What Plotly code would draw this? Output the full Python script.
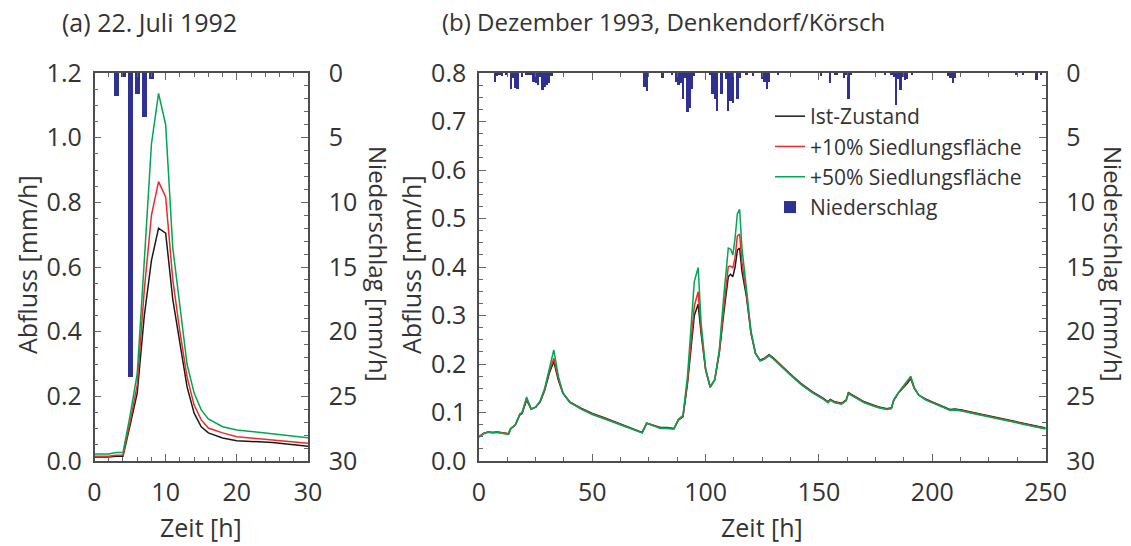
import plotly.graph_objects as go

# ---------------- Panel (a): 22. Juli 1992 ----------------
t_a = [0, 2, 3, 4, 5, 6, 7, 8, 9, 10, 11, 12, 13, 14, 15, 16, 18, 20, 25, 30]
ist_a = [0.012, 0.012, 0.015, 0.015, 0.11, 0.21, 0.45, 0.62, 0.72, 0.705, 0.50, 0.36, 0.23, 0.148, 0.106, 0.087, 0.071, 0.063, 0.057, 0.046]
p10_a = [0.015, 0.015, 0.018, 0.018, 0.12, 0.235, 0.53, 0.76, 0.864, 0.817, 0.56, 0.40, 0.26, 0.173, 0.127, 0.102, 0.087, 0.075, 0.065, 0.055]
p50_a = [0.022, 0.022, 0.026, 0.026, 0.14, 0.27, 0.62, 0.98, 1.137, 1.04, 0.66, 0.47, 0.30, 0.21, 0.158, 0.13, 0.106, 0.096, 0.083, 0.072]
rain_t_a = [3, 4, 5, 6, 7, 8]
rain_a = [1.75, 0.28, 23.5, 1.6, 3.4, 0.5]

# ---------------- Panel (b): Dezember 1993 ----------------
t_b = [0, 2, 4, 6, 8, 10, 13, 14, 16, 18, 19, 21, 22, 23, 25, 27, 29, 31, 33, 35, 37, 40, 45, 50, 55, 60, 65, 70, 72, 74,
       77, 80, 83, 86, 88, 90, 92, 94, 95, 96.7, 98, 100, 102, 104, 106, 108, 110, 111, 112, 113, 114, 115, 116, 118, 120,
       122, 124, 126, 128, 130, 133, 137, 142, 147, 152, 154, 155, 157, 160, 162, 163, 165, 170, 176, 180, 182, 183, 185,
       187, 189, 190.5, 192, 194, 197, 200, 205, 208, 210, 213, 220, 230, 240, 250]
ist_b = [0.050, 0.057, 0.060, 0.059, 0.060, 0.059, 0.056, 0.067, 0.074, 0.095, 0.098, 0.126, 0.115, 0.107, 0.111, 0.122,
         0.146, 0.181, 0.205, 0.167, 0.140, 0.122, 0.109, 0.098, 0.090, 0.081, 0.072, 0.064, 0.059, 0.078,
         0.074, 0.069, 0.069, 0.067, 0.085, 0.091, 0.160, 0.256, 0.300, 0.323, 0.263, 0.188, 0.153, 0.167, 0.222, 0.305,
         0.380, 0.385, 0.380, 0.400, 0.435, 0.439, 0.392, 0.339, 0.263,
         0.222, 0.208, 0.212, 0.219, 0.212, 0.198, 0.181, 0.160, 0.143, 0.129, 0.122, 0.127, 0.122, 0.119, 0.126, 0.141,
         0.136, 0.122, 0.112, 0.108, 0.110, 0.125, 0.140,
         0.150, 0.160, 0.170, 0.150, 0.136, 0.128, 0.122, 0.112, 0.106, 0.107, 0.105, 0.098, 0.088, 0.078, 0.068]
p10_b = [0.050, 0.057, 0.060, 0.059, 0.060, 0.059, 0.056, 0.067, 0.074, 0.096, 0.099, 0.128, 0.116, 0.107, 0.111, 0.123,
         0.148, 0.185, 0.212, 0.170, 0.141, 0.122, 0.108, 0.097, 0.089, 0.080, 0.071, 0.063, 0.058, 0.078,
         0.073, 0.068, 0.068, 0.066, 0.085, 0.092, 0.165, 0.270, 0.320, 0.349, 0.270, 0.188, 0.152, 0.167, 0.224, 0.315,
         0.401, 0.402, 0.398, 0.420, 0.464, 0.468, 0.410, 0.345, 0.265,
         0.222, 0.207, 0.211, 0.218, 0.211, 0.197, 0.180, 0.159, 0.142, 0.128, 0.121, 0.126, 0.121, 0.118, 0.125, 0.140,
         0.135, 0.121, 0.111, 0.107, 0.109, 0.125, 0.140,
         0.151, 0.162, 0.172, 0.151, 0.136, 0.127, 0.121, 0.111, 0.105, 0.106, 0.104, 0.097, 0.087, 0.077, 0.067]
p50_b = [0.049, 0.056, 0.059, 0.058, 0.059, 0.058, 0.055, 0.066, 0.074, 0.097, 0.100, 0.132, 0.117, 0.107, 0.111, 0.124,
         0.150, 0.192, 0.229, 0.175, 0.141, 0.121, 0.107, 0.096, 0.088, 0.079, 0.070, 0.062, 0.058, 0.078,
         0.072, 0.067, 0.067, 0.066, 0.086, 0.094, 0.175, 0.300, 0.370, 0.399, 0.285, 0.190, 0.152, 0.168, 0.228, 0.340,
         0.439, 0.437, 0.425, 0.460, 0.510, 0.519, 0.440, 0.355, 0.268,
         0.222, 0.206, 0.210, 0.217, 0.210, 0.196, 0.179, 0.158, 0.141, 0.127, 0.120, 0.125, 0.120, 0.117, 0.124, 0.139,
         0.134, 0.120, 0.110, 0.106, 0.108, 0.126, 0.141,
         0.153, 0.165, 0.175, 0.152, 0.136, 0.126, 0.120, 0.110, 0.104, 0.105, 0.103, 0.096, 0.086, 0.076, 0.066]
rain_t_b = [7, 8, 9, 10, 12, 14, 15, 16, 17, 19, 21, 22, 23, 24, 25, 26, 27, 28, 29, 30, 31, 32,
            73, 74, 81, 85, 87, 88, 89, 90, 91, 92, 93, 94, 95,
            102, 103, 104, 105, 107, 109, 110, 111, 112, 114, 115, 118, 121, 125, 126, 127, 128, 132,
            151, 155, 157, 158, 161, 162, 163, 164, 179, 182, 183, 184, 185, 186, 187, 188, 189, 191,
            207, 208, 209, 210, 237, 240, 246, 248]
rain_b = [0.67, 0.2, 0.15, 0.25, 0.1, 1.27, 0.35, 1.15, 1.2, 0.3, 0.08, 0.08, 0.08, 0.67, 0.75, 0.9, 0.3, 1.35, 1.05, 0.9, 0.75, 0.25,
          1.1, 1.4, 0.35, 0.1, 0.67, 0.95, 0.75, 2.0, 0.4, 3.0, 2.7, 1.2, 0.2,
          0.15, 1.65, 2.0, 2.9, 1.65, 0.45, 2.9, 2.17, 2.3, 2.0, 0.35, 0.1, 0.2, 0.45, 0.7, 1.2, 0.7, 0.08,
          0.2, 0.8, 0.1, 0.12, 0.35, 0.15, 2.0, 0.08, 0.08, 0.1, 0.3, 2.5, 0.5, 1.35, 0.3, 0.57, 0.45, 0.08,
          0.2, 0.35, 0.8, 0.4, 0.15, 0.1, 0.55, 0.1]

names = ["Ist-Zustand", "+10% Siedlungsfläche", "+50% Siedlungsfläche", "Niederschlag"]
C_IST, C_10, C_50, C_RAIN = "#1a1a1a", "#ee2a2a", "#00a651", "#2e3192"

W, H = 1131, 546
FONT = "Open Sans"
TXT = "#333333"
FS = 25

fig = go.Figure()

# panel a
for y, c, n in [(ist_a, C_IST, names[0]), (p10_a, C_10, names[1]), (p50_a, C_50, names[2])]:
    fig.add_trace(go.Scatter(x=t_a, y=y, mode="lines", line=dict(color=c, width=1.5), name=n,
                             xaxis="x", yaxis="y", showlegend=False))
fig.add_trace(go.Bar(x=rain_t_a, y=rain_a, width=0.7, marker=dict(color=C_RAIN, line=dict(width=0)),
                     xaxis="x", yaxis="y2", name=names[3], showlegend=False))

# panel b
for y, c, n in [(ist_b, C_IST, names[0]), (p10_b, C_10, names[1]), (p50_b, C_50, names[2])]:
    fig.add_trace(go.Scatter(x=t_b, y=y, mode="lines", line=dict(color=c, width=1.5), name=n,
                             xaxis="x2", yaxis="y3", showlegend=True))
fig.add_trace(go.Bar(x=rain_t_b, y=rain_b, width=1.0, marker=dict(color=C_RAIN, line=dict(width=0)),
                     xaxis="x2", yaxis="y4", name=names[3], showlegend=True))

xa_dom = [94.5 / W, 308 / W]
xb_dom = [479 / W, 1045.6 / W]
y_dom = [85 / H, 473 / H]

axis_common = dict(showline=True, linecolor="#4d4d4d", linewidth=1.5, ticks="inside", ticklen=7,
                   tickwidth=1.2, tickcolor="#666666", showgrid=False, zeroline=False, automargin=False,
                   tickfont=dict(family=FONT, size=FS, color=TXT))
minor_common = dict(ticks="inside", ticklen=4, tickwidth=1.2, tickcolor="#666666", showgrid=False)

fig.update_layout(
    width=W, height=H, margin=dict(l=0, r=0, t=0, b=0),
    paper_bgcolor="white", plot_bgcolor="white",
    font=dict(family=FONT, size=FS, color=TXT),
    bargap=0,
    xaxis=dict(domain=xa_dom, range=[0, 30], dtick=10, anchor="y", mirror="ticks",
               minor=dict(dtick=2, **minor_common), ticklabelstandoff=8, **axis_common),
    yaxis=dict(domain=y_dom, range=[0, 1.2], dtick=0.2, tickformat=".1f", anchor="x",
               minor=dict(dtick=0.05, **minor_common), ticklabelstandoff=6, **axis_common),
    yaxis2=dict(range=[30, 0], dtick=5, overlaying="y", side="right", anchor="x",
                minor=dict(dtick=1, **minor_common), ticklabelstandoff=14, **axis_common),
    xaxis2=dict(domain=xb_dom, range=[0, 250], dtick=50, anchor="y3", mirror="ticks",
                minor=dict(dtick=12.5, **minor_common), ticklabelstandoff=8, **axis_common),
    yaxis3=dict(domain=y_dom, range=[0, 0.8], dtick=0.1, tickformat=".1f", anchor="x2",
                minor=dict(dtick=0.025, **minor_common), ticklabelstandoff=6, **axis_common),
    yaxis4=dict(range=[30, 0], dtick=5, overlaying="y3", side="right", anchor="x2",
                minor=dict(dtick=1, **minor_common), ticklabelstandoff=14, **axis_common),
    legend=dict(x=770 / W, y=1 - 96 / H, xanchor="left", yanchor="top", bgcolor="rgba(0,0,0,0)",
                font=dict(family=FONT, size=21, color=TXT), traceorder="normal"),
)

def ann(text, x, y, angle=0, xanchor="center", size=FS):
    fig.add_annotation(text=text, x=x / W, y=1 - y / H, xref="paper", yref="paper", showarrow=False,
                       textangle=angle, xanchor=xanchor, yanchor="middle",
                       font=dict(family=FONT, size=size, color=TXT))

ann("(a) 22. Juli 1992", 60, 22, xanchor="left")
ann("(b) Dezember 1993, Denkendorf/Körsch", 440, 22, xanchor="left", size=24)
ann("Abfluss [mm/h]", 27, 265, angle=-90)
ann("Niederschlag [mm/h]", 379, 264, angle=90, size=24)
ann("Abfluss [mm/h]", 411, 265, angle=-90)
ann("Niederschlag [mm/h]", 1114, 264, angle=90, size=24)
ann("Zeit [h]", 201, 527)
ann("Zeit [h]", 762, 527)

fig.write_html("out.html", post_script="document.body.style.margin='0';",
               config={"displayModeBar": False})
